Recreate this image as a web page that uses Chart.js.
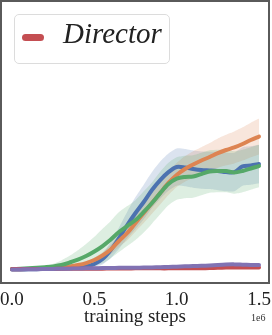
<!DOCTYPE html>
<html>
<head>
<meta charset="utf-8">
<script src="https://cdn.jsdelivr.net/npm/chart.js@4"></script>
<style>
  body { margin: 0; background: #fff; }
  #wrap { position: relative; width: 272px; height: 335px; }
  #legendBox {
    position: absolute; left: 14px; top: 14px; width: 156px; height: 50px;
    border: 1px solid #dcdcdc; border-radius: 5px; background: rgba(255,255,255,0.85);
    box-sizing: border-box;
  }
  #legendMark {
    position: absolute; left: 7px; top: 19px; width: 22px; height: 7px;
    background: #c44e52; border-radius: 4px;
  }
  #legendText {
    position: absolute; left: 48px; top: 2px;
    font: italic 29px "Liberation Serif", serif; color: #222;
  }
  #expo {
    position: absolute; left: 251px; top: 312px;
    font: 10px "Liberation Serif", serif; color: #333;
  }
</style>
</head>
<body>
<div id="wrap">
  <canvas id="myChart" width="272" height="335"></canvas>
  <div id="legendBox"><div id="legendMark"></div><div id="legendText">Director</div></div>
  <div id="expo">1e6</div>
</div>
<script>
// training steps (x 1e6)
const steps = [0, 0.05, 0.1, 0.15, 0.2, 0.25, 0.3, 0.35, 0.4, 0.45, 0.5, 0.55, 0.6, 0.65, 0.7, 0.75,
  0.8, 0.85, 0.9, 0.95, 1.0, 1.05, 1.1, 1.15, 1.2, 1.25, 1.3, 1.35, 1.4, 1.45, 1.5];
const xTicks = [0, 0.5, 1.0, 1.5];

// mean curves
const blueMean = [-0.004, -0.004, -0.002, -0.002, 0, 0.002, 0.004, 0.007, 0.011, 0.019, 0.038, 0.075,
  0.143, 0.233, 0.331, 0.421, 0.504, 0.594, 0.669, 0.729, 0.767, 0.763, 0.752, 0.744, 0.741, 0.737,
  0.729, 0.729, 0.771, 0.778, 0.789];
const orangeMean = [-0.002, -0.002, 0, 0.002, 0.004, 0.008, 0.011, 0.019, 0.030, 0.045, 0.068, 0.102,
  0.147, 0.211, 0.271, 0.346, 0.421, 0.496, 0.571, 0.647, 0.707, 0.752, 0.786, 0.816, 0.842, 0.872,
  0.895, 0.914, 0.940, 0.970, 0.996];
const greenMean = [0, 0.002, 0.005, 0.009, 0.014, 0.020, 0.030, 0.049, 0.071, 0.098, 0.132, 0.173,
  0.222, 0.278, 0.323, 0.368, 0.429, 0.496, 0.571, 0.639, 0.680, 0.692, 0.695, 0.714, 0.733, 0.737,
  0.737, 0.726, 0.737, 0.756, 0.774];
const redMean = [0, 0, 0, 0.001, 0.001, 0.001, 0.002, 0.002, 0.002, 0.003, 0.003, 0.003, 0.004, 0.004,
  0.004, 0.005, 0.005, 0.005, 0.005, 0.005, 0.006, 0.006, 0.006, 0.006, 0.007, 0.009, 0.011, 0.012,
  0.011, 0.011, 0.011];
const purpleMean = [-0.004, -0.003, -0.002, -0.001, 0, 0.001, 0.002, 0.003, 0.004, 0.005, 0.006, 0.007,
  0.008, 0.009, 0.009, 0.010, 0.011, 0.012, 0.014, 0.016, 0.018, 0.020, 0.022, 0.024, 0.027, 0.031,
  0.034, 0.035, 0.033, 0.031, 0.030];

// spread of the shaded bands
const blueSpread = [0.002, 0.002, 0.002, 0.003, 0.003, 0.004, 0.005, 0.006, 0.008, 0.012, 0.02, 0.04,
  0.06, 0.08, 0.1, 0.12, 0.13, 0.135, 0.14, 0.14, 0.14, 0.14, 0.14, 0.14, 0.14, 0.145, 0.145, 0.145,
  0.145, 0.145, 0.145];
const orangeSpread = [0.002, 0.002, 0.002, 0.003, 0.003, 0.004, 0.005, 0.006, 0.008, 0.012, 0.018, 0.025,
  0.035, 0.045, 0.055, 0.065, 0.075, 0.08, 0.085, 0.09, 0.09, 0.095, 0.1, 0.1, 0.105, 0.11, 0.115,
  0.12, 0.125, 0.13, 0.135];
const greenSpread = [0.002, 0.003, 0.004, 0.006, 0.01, 0.02, 0.035, 0.05, 0.07, 0.09, 0.11, 0.13, 0.14,
  0.15, 0.15, 0.15, 0.155, 0.155, 0.16, 0.16, 0.16, 0.16, 0.16, 0.16, 0.16, 0.16, 0.16, 0.16, 0.16,
  0.16, 0.16];
const redSpread = [0.002, 0.002, 0.002, 0.002, 0.002, 0.002, 0.002, 0.002, 0.002, 0.002, 0.002, 0.002,
  0.002, 0.002, 0.002, 0.002, 0.002, 0.002, 0.002, 0.002, 0.002, 0.002, 0.002, 0.002, 0.002, 0.002,
  0.002, 0.002, 0.002, 0.002, 0.002];
const purpleSpread = [0.003, 0.003, 0.003, 0.003, 0.003, 0.004, 0.004, 0.004, 0.004, 0.005, 0.005, 0.005,
  0.005, 0.006, 0.006, 0.006, 0.006, 0.007, 0.007, 0.007, 0.008, 0.008, 0.008, 0.009, 0.009, 0.01,
  0.01, 0.01, 0.01, 0.011, 0.011];

const series = [
  { name: "Director", mean: redMean, spread: redSpread, color: "#c44e52", fill: "rgba(196,78,82,0.2)", order: 2 },
  { name: "purple", mean: purpleMean, spread: purpleSpread, color: "#8172b3", fill: "rgba(129,114,179,0.25)", order: 1 },
  { name: "green", mean: greenMean, spread: greenSpread, color: "#55a868", fill: "rgba(85,168,104,0.2)", order: 3 },
  { name: "orange", mean: orangeMean, spread: orangeSpread, color: "#dd8452", fill: "rgba(221,132,82,0.2)", order: 4 },
  { name: "blue", mean: blueMean, spread: blueSpread, color: "#4c72b0", fill: "rgba(76,114,176,0.2)", order: 5 }
];

function pts(arr) {
  return steps.map((s, i) => ({ x: s, y: arr[i] }));
}

let datasets = [];
series.forEach((s, k) => {
  const upper = s.mean.map((m, i) => m + s.spread[i]);
  const lower = s.mean.map((m, i) => m - s.spread[i]);
  datasets.push({ data: pts(upper), borderWidth: 0, pointRadius: 0, fill: false, order: 20 + k, tension: 0.2 });
  datasets.push({ data: pts(lower), borderWidth: 0, pointRadius: 0, fill: "-1", backgroundColor: s.fill, order: 20 + k, tension: 0.2 });
  datasets.push({ label: s.name, data: pts(s.mean), borderColor: s.color, borderWidth: 4, pointRadius: 0,
    fill: false, order: s.order, tension: 0.3, borderCapStyle: "round" });
});

const frame = {
  id: "frame",
  afterDraw(chart) {
    const a = chart.chartArea, c = chart.ctx;
    c.save();
    c.strokeStyle = "#5a5a5a";
    c.lineWidth = 2;
    c.strokeRect(a.left, a.top, a.right - a.left, a.bottom - a.top);
    c.restore();
  }
};

const chart = new Chart(document.getElementById("myChart"), {
  type: "line",
  data: { datasets: datasets },
  plugins: [frame],
  options: {
    responsive: false,
    animation: false,
    devicePixelRatio: 1,
    layout: { padding: { left: 1, right: 3, top: 1, bottom: 0 } },
    plugins: { legend: { display: false }, tooltip: { enabled: false } },
    scales: {
      x: {
        type: "linear",
        min: -0.0668,
        max: 1.5607,
        afterBuildTicks: (scale) => { scale.ticks = xTicks.map(v => ({ value: v })); },
        afterFit: (scale) => { scale.paddingLeft = 0; scale.paddingRight = 0; scale.height = 52; },
        grid: { display: false, drawTicks: false },
        border: { display: false },
        ticks: { color: "#222", padding: 6, maxRotation: 0, font: { family: "Liberation Serif", size: 19 },
          callback: (v) => Number(v).toFixed(1) },
        title: { display: true, text: "training steps", color: "#222", padding: { top: 0, bottom: 7 },
          font: { family: "Liberation Serif", size: 19 } }
      },
      y: {
        display: false,
        min: -0.105,
        max: 2.015
      }
    }
  }
});
</script>
</body>
</html>
